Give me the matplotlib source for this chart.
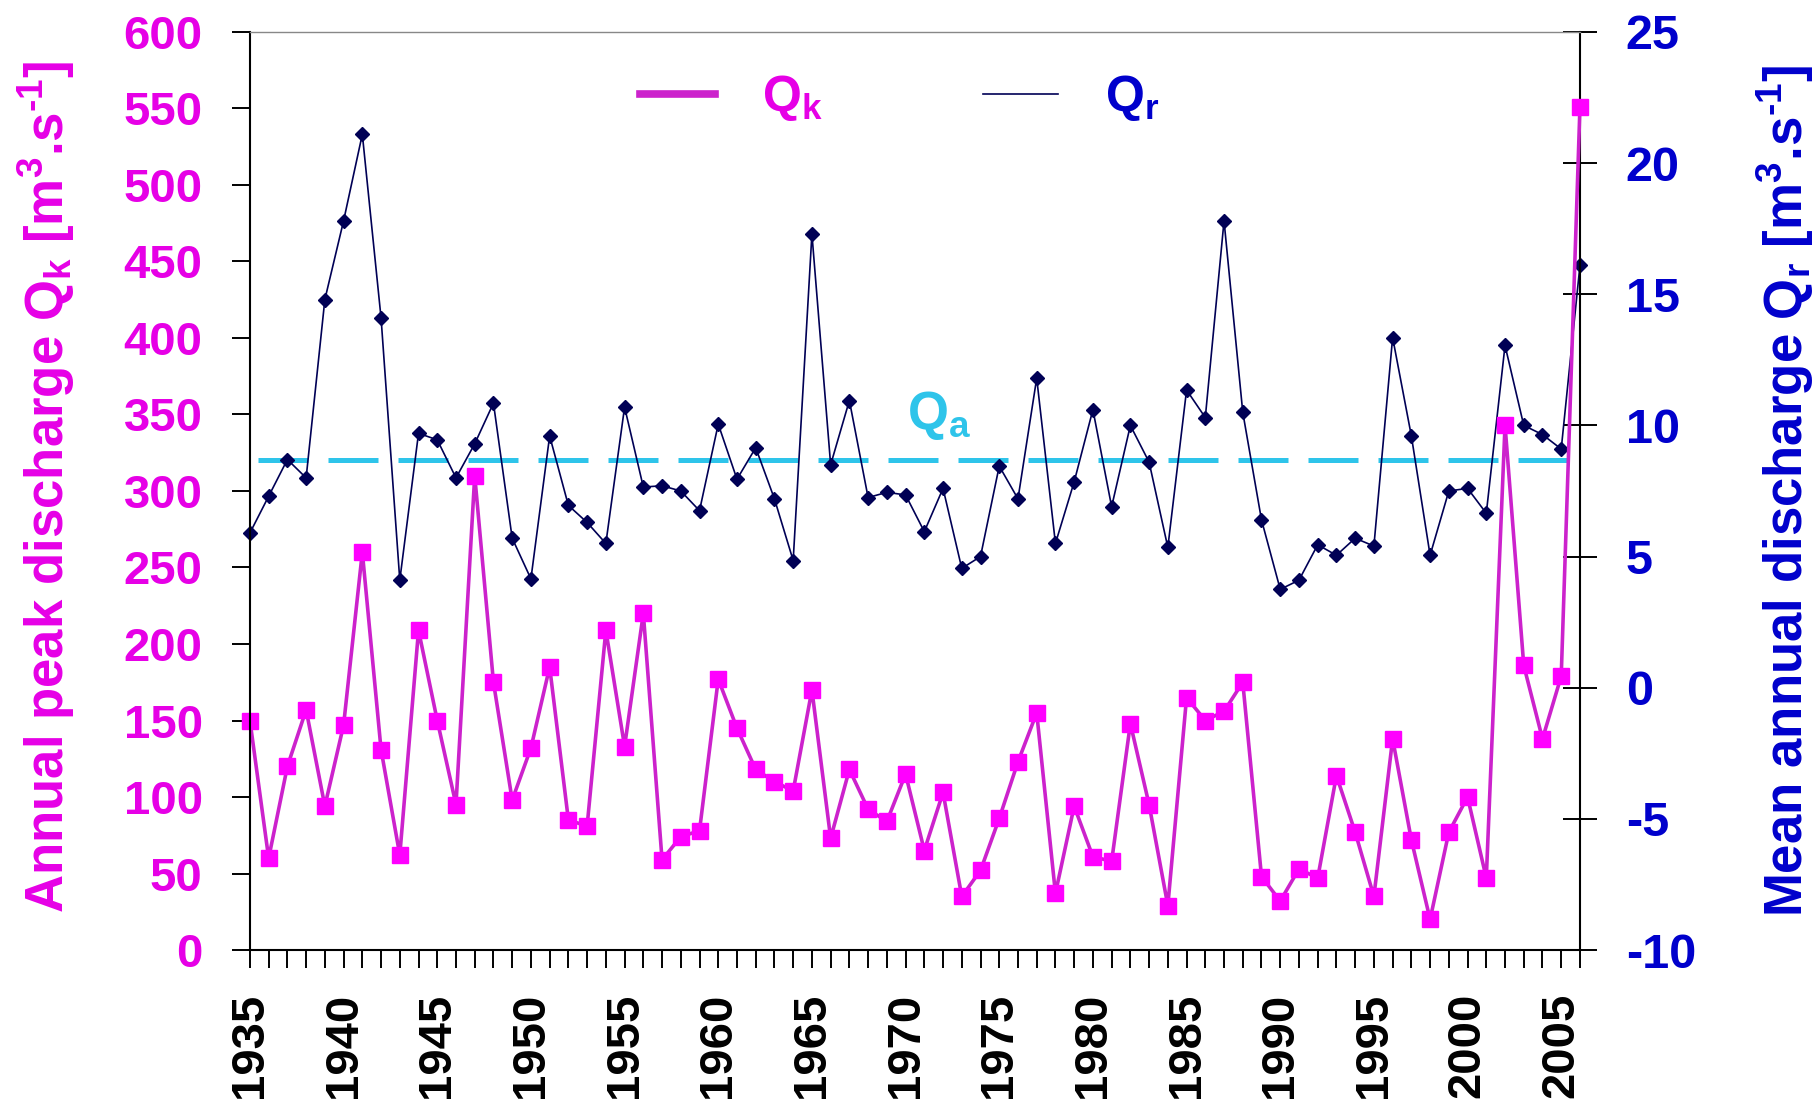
import numpy as np
import matplotlib.pyplot as plt
from matplotlib.lines import Line2D
from matplotlib.ticker import MultipleLocator

plt.rcParams['font.family'] = 'Liberation Sans'
plt.rcParams['font.weight'] = 'bold'
plt.rcParams['axes.labelweight'] = 'bold'
plt.rcParams['axes.unicode_minus'] = False
plt.rcParams['mathtext.fontset'] = 'custom'
plt.rcParams['mathtext.rm'] = 'Liberation Sans:bold'
plt.rcParams['mathtext.it'] = 'Liberation Sans:bold'
plt.rcParams['mathtext.bf'] = 'Liberation Sans:bold'

# roky 1935-2006
years = np.arange(1935, 2007)

# kulminacni prutok Qk [m3/s]
qk = [150, 60, 120, 157, 94, 147, 260, 131, 62, 209,
      150, 95, 310, 175, 98, 132, 185, 85, 81, 209,
      133, 220, 59, 74, 78, 177, 145, 118, 110, 104,
      170, 73, 118, 92, 84, 115, 65, 103, 35, 52,
      86, 123, 155, 37, 94, 61, 58, 148, 95, 29,
      165, 150, 156, 175, 48, 32, 53, 47, 114, 77,
      35, 138, 72, 20, 77, 100, 47, 343, 186, 138,
      179, 551]

# prumerny rocni prutok Qr [m3/s]
qr = [5.9, 7.3, 8.7, 8.0, 14.8, 17.8, 21.1, 14.1, 4.1, 9.7,
      9.45, 8.0, 9.3, 10.85, 5.7, 4.15, 9.6, 6.95, 6.3, 5.5,
      10.7, 7.65, 7.7, 7.5, 6.75, 10.05, 7.95, 9.15, 7.2, 4.85,
      17.3, 8.5, 10.95, 7.25, 7.45, 7.35, 5.95, 7.6, 4.55, 5.0,
      8.45, 7.2, 11.8, 5.5, 7.85, 10.6, 6.9, 10.0, 8.6, 5.35,
      11.35, 10.3, 17.8, 10.5, 6.4, 3.75, 4.1, 5.45, 5.05, 5.7,
      5.4, 13.35, 9.6, 5.05, 7.5, 7.6, 6.65, 13.05, 10.0, 9.65,
      9.1, 16.1]

# dlouhodoby prumerny prutok Qa
qa = 8.67

magenta = '#E600E6'
pink_line = '#CC22CC'
pink_mark = '#FF00FF'
navy = '#000055'
blue = '#0000CC'
cyan = '#2EC4EA'

fig = plt.figure(figsize=(18.15, 11.14), dpi=100)
ax = fig.add_axes([0.1377, 0.1472, 0.7328, 0.8241])
ax2 = ax.twinx()
ax.set_zorder(ax2.get_zorder() + 1)
ax.patch.set_visible(False)

# Qa + Qr na prave ose
ax2.axhline(qa, color=cyan, lw=3.6, linestyle=(12.4, (10, 4)), zorder=1)
ax2.plot(years, qr, color=navy, lw=1.2, marker='D', ms=7, clip_on=False, zorder=2)
ax2.text(1970.05, 9.86, r'Q$_a$', color=cyan, fontsize=38, ha='left', va='baseline')

# Qk na leve ose
ax.plot(years, qk, color=pink_line, lw=2.6, marker='s', ms=11,
        mfc=pink_mark, mec=pink_mark, clip_on=False)

ax.set_xlim(1935, 2006)
ax.set_ylim(0, 600)
ax2.set_ylim(-10, 25)
ax.set_yticks(range(0, 601, 50))
ax2.set_yticks(range(-10, 26, 5))
ax.set_xticks(range(1935, 2006, 5))
ax.xaxis.set_minor_locator(MultipleLocator(1))

ax.tick_params(axis='y', direction='out', length=13, width=1.4, pad=21,
               labelsize=34, labelcolor=magenta)
ax.tick_params(axis='x', which='both', direction='out', length=13, width=1.4,
               pad=18, labelsize=34, labelrotation=90)
ax2.tick_params(axis='y', direction='inout', length=24, width=1.4, pad=21,
                labelsize=35, labelcolor=blue)

for s in ['left', 'bottom']:
    ax.spines[s].set_linewidth(1.5)
ax.spines['top'].set_color('#888888')
ax.spines['top'].set_linewidth(1.0)
ax.spines['right'].set_visible(False)
for s in ['left', 'top', 'bottom']:
    ax2.spines[s].set_visible(False)
ax2.spines['right'].set_linewidth(1.5)

ax.set_ylabel(r'Annual peak discharge Q$_k$ [m$^3$.s$^{\text{-1}}$]', fontsize=38, color=magenta)
ax.yaxis.set_label_coords(-0.13, 0.505)
ax2.set_ylabel(r'Mean annual discharge Q$_r$ [m$^3$.s$^{\text{-1}}$]', fontsize=38, color=blue)
ax2.yaxis.set_label_coords(1.1316, 0.5)

h1 = Line2D([], [], color=pink_line, lw=5.5)
h2 = Line2D([], [], color=navy, lw=1.2)
ax.legend([h1, h2], [r'Q$_k$', r'Q$_r$'], ncol=2, loc='upper left',
          bbox_to_anchor=(0.293, 0.955), frameon=False, fontsize=36,
          handlelength=1.5, handletextpad=0.95, columnspacing=3.2,
          borderpad=0, borderaxespad=0, labelcolor=[magenta, blue])

fig.savefig('out.png', dpi=100)
